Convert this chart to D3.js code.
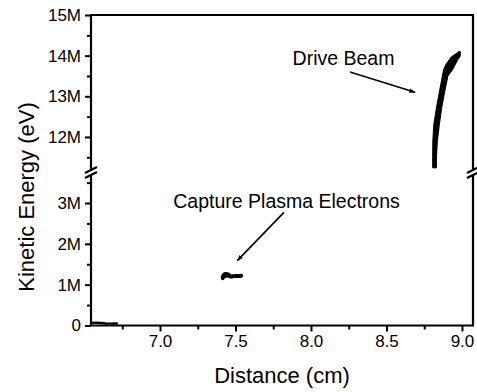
<!DOCTYPE html>
<html>
<head>
<meta charset="utf-8">
<script src="https://cdn.jsdelivr.net/npm/d3@7/dist/d3.min.js"></script>
<style>
  html, body { margin: 0; padding: 0; background: #fff; }
  svg { display: block; font-family: "Liberation Sans", Arial, Helvetica, sans-serif; }
</style>
</head>
<body>
<svg id="chart" width="477" height="392"></svg>
<script>
// ---------------- data ----------------
const xTicks = [7.0, 7.5, 8.0, 8.5, 9.0];
const xTickLabels = ["7.0", "7.5", "8.0", "8.5", "9.0"];
const xMinorTicks = [6.75, 7.25, 7.75, 8.25, 8.75];

const yLowerTicks = [0, 1, 2, 3];
const yLowerLabels = ["0", "1M", "2M", "3M"];
const yLowerMinor = [0.5, 1.5, 2.5, 3.5];

const yUpperTicks = [12, 13, 14, 15];
const yUpperLabels = ["12M", "13M", "14M", "15M"];
const yUpperMinor = [11.5, 12.5, 13.5, 14.5];

// Drive beam band (energy in MeV, left/right distance edges in cm)
const beamEnergy = [11.24, 11.5, 11.9, 12.3, 12.7, 13.1, 13.5, 13.65, 13.77, 13.9, 13.97, 14.05, 14.1];
const beamXLeft  = [8.806, 8.806, 8.807, 8.813, 8.83, 8.85, 8.87, 8.878, 8.892, 8.915, 8.93, 8.962, 8.978];
const beamXRight = [8.831, 8.831, 8.837, 8.85, 8.865, 8.885, 8.907, 8.937, 8.954, 8.972, 8.987, 8.99, 8.988];

// Captured plasma electrons
const captureX = [7.415, 7.422, 7.44, 7.458, 7.465, 7.48, 7.50, 7.52, 7.538];
const captureE = [1.16, 1.24, 1.26, 1.235, 1.20, 1.205, 1.215, 1.21, 1.22];

// Background electrons near zero energy
const groundX = [6.548, 6.58, 6.61, 6.64, 6.67, 6.70, 6.72];
const groundE = [0.06, 0.07, 0.06, 0.05, 0.045, 0.05, 0.05];

// Annotations
const annotations = [
  { text: "Drive Beam", tx: 7.878, tE: 13.78, seg: "upper",
    from: [8.258, 13.60], to: [8.689, 13.10], toSeg: "upper" },
  { text: "Capture Plasma Electrons", tx: 7.088, tE: 2.885, seg: "lower",
    from: [7.821, 2.77], to: [7.512, 1.59], toSeg: "lower" }
];

// ---------------- layout ----------------
const L = 91, R = 473, T = 15, B = 325.5;
const breakY = 172.5;

const x = d3.scaleLinear().domain([6.543, 9.073]).range([L, R]);
const yUp = d3.scaleLinear().domain([11.15, 15]).range([171.5, T]);
const yLo = d3.scaleLinear().domain([0, 3.75]).range([B, 172.4]);
const yOf = seg => seg === "upper" ? yUp : yLo;

const svg = d3.select("#chart");

// ---------------- axes ----------------
function styleAxis(g) {
  g.select(".domain").remove();
  g.selectAll(".tick line").attr("stroke", "#000").attr("stroke-width", 2);
  g.selectAll(".tick text").attr("fill", "#000").style("font-size", "17px");
}

// x axis
svg.append("g").attr("transform", `translate(0,${B})`)
  .call(d3.axisBottom(x).tickValues(xTicks).tickSize(6).tickPadding(3)
    .tickFormat((d, i) => xTickLabels[i]))
  .call(styleAxis);
svg.append("g").attr("transform", `translate(0,${B})`)
  .call(d3.axisBottom(x).tickValues(xMinorTicks).tickSize(4).tickFormat(""))
  .call(styleAxis);

// y axes (two segments)
svg.append("g").attr("transform", `translate(${L},0)`)
  .call(d3.axisLeft(yLo).tickValues(yLowerTicks).tickSize(6).tickPadding(4)
    .tickFormat((d, i) => yLowerLabels[i]))
  .call(styleAxis);
svg.append("g").attr("transform", `translate(${L},0)`)
  .call(d3.axisLeft(yLo).tickValues(yLowerMinor).tickSize(4).tickFormat(""))
  .call(styleAxis);
svg.append("g").attr("transform", `translate(${L},0)`)
  .call(d3.axisLeft(yUp).tickValues(yUpperTicks).tickSize(6).tickPadding(4)
    .tickFormat((d, i) => yUpperLabels[i]))
  .call(styleAxis);
svg.append("g").attr("transform", `translate(${L},0)`)
  .call(d3.axisLeft(yUp).tickValues(yUpperMinor).tickSize(4).tickFormat(""))
  .call(styleAxis);

// frame
const frame = svg.append("g").attr("stroke", "#000").attr("stroke-width", 2.2).attr("fill", "none");
frame.append("line").attr("x1", L - 1).attr("x2", R + 1).attr("y1", T).attr("y2", T);
frame.append("line").attr("x1", L - 1).attr("x2", R + 1).attr("y1", B).attr("y2", B);
[L, R].forEach(xx => {
  frame.append("line").attr("x1", xx).attr("x2", xx).attr("y1", T).attr("y2", breakY - 3);
  frame.append("line").attr("x1", xx).attr("x2", xx).attr("y1", breakY + 2.5).attr("y2", B);
  // break marks
  [-2.5, 2.5].forEach(o => {
    frame.append("line")
      .attr("x1", xx - 6).attr("y1", breakY + o + 3)
      .attr("x2", xx + 6).attr("y2", breakY + o - 3);
  });
});

// ---------------- data marks ----------------
const beam = beamEnergy.map((e, i) => ({ e, xl: beamXLeft[i], xr: beamXRight[i] }));
svg.append("path")
  .datum(beam)
  .attr("fill", "#000")
  .attr("stroke", "#000")
  .attr("stroke-width", 1)
  .attr("d", d3.area()
    .y(d => yUp(d.e))
    .x0(d => x(d.xl))
    .x1(d => x(d.xr))
    .curve(d3.curveLinear));

svg.append("path")
  .datum(captureX.map((v, i) => [v, captureE[i]]))
  .attr("fill", "#000")
  .attr("stroke", "#000")
  .attr("stroke-width", 4)
  .attr("stroke-linecap", "round")
  .attr("stroke-linejoin", "round")
  .attr("d", d3.line().x(d => x(d[0])).y(d => yLo(d[1])).curve(d3.curveCatmullRom));

svg.append("path")
  .datum(groundX.map((v, i) => [v, groundE[i]]))
  .attr("fill", "none")
  .attr("stroke", "#000")
  .attr("stroke-width", 2.4)
  .attr("d", d3.line().x(d => x(d[0])).y(d => yLo(d[1])));

// ---------------- annotations ----------------
svg.append("defs").append("marker")
  .attr("id", "arrow")
  .attr("viewBox", "0 0 10 10")
  .attr("refX", 9).attr("refY", 5)
  .attr("markerWidth", 4).attr("markerHeight", 4)
  .attr("orient", "auto")
  .append("path").attr("d", "M0,1.5 L10,5 L0,8.5 Z").attr("fill", "#000");

annotations.forEach(a => {
  const ys = yOf(a.seg), yt = yOf(a.toSeg);
  svg.append("line")
    .attr("x1", x(a.from[0])).attr("y1", ys(a.from[1]))
    .attr("x2", x(a.to[0])).attr("y2", yt(a.to[1]))
    .attr("stroke", "#000").attr("stroke-width", 1.6)
    .attr("marker-end", "url(#arrow)");
  svg.append("text")
    .attr("x", x(a.tx)).attr("y", ys(a.tE))
    .style("font-size", "19.5px")
    .attr("fill", "#000")
    .text(a.text);
});

// ---------------- axis titles ----------------
svg.append("text")
  .attr("x", (L + R) / 2).attr("y", 383)
  .attr("text-anchor", "middle")
  .style("font-size", "22px")
  .text("Distance (cm)");

svg.append("text")
  .attr("transform", `translate(33.5,${197}) rotate(-90)`)
  .attr("text-anchor", "middle")
  .style("font-size", "22px")
  .text("Kinetic Energy (eV)");
</script>
</body>
</html>
